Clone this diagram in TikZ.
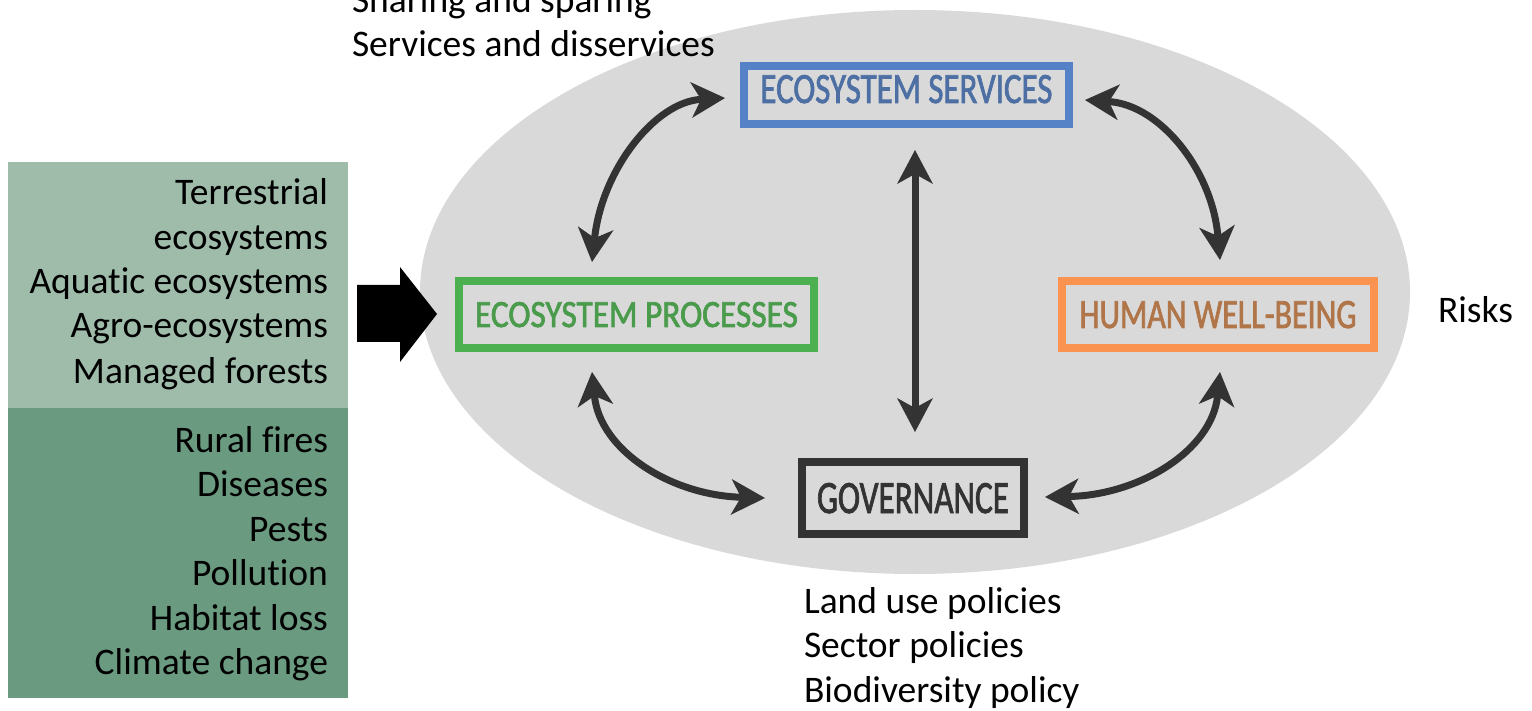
\documentclass[tikz,border=0pt]{standalone}
\usepackage{fontspec}
\setmainfont{Carlito}[Ligatures=NoCommon]
\newfontfamily\boxfont[FakeBold=2]{Carlito}
\usetikzlibrary{arrows.meta,calc}
\definecolor{ellgray}{HTML}{D9D9D9}
\definecolor{svcblue}{HTML}{5582C6}
\definecolor{svctext}{HTML}{4D6FA3}
\definecolor{procgreen}{HTML}{4DB050}
\definecolor{proctext}{HTML}{4A9B4C}
\definecolor{humorange}{HTML}{FA9350}
\definecolor{humtext}{HTML}{B07548}
\definecolor{govdark}{HTML}{333333}
\definecolor{arrowdark}{HTML}{333333}
\definecolor{panellight}{HTML}{9FBCAB}
\definecolor{paneldark}{HTML}{6A9A80}
\begin{document}
\begin{tikzpicture}[x=1pt,y=-1pt,
  lbl/.style={font=\fontsize{37.5}{44}\selectfont, inner sep=0pt, outer sep=0pt},
  boxnode/.style={draw, line width=8pt, inner sep=0pt, outer sep=0pt, font=\boxfont},
  panel/.style={inner sep=0pt, outer sep=0pt, anchor=north west, minimum width=340pt},
  dbl/.style={line width=7pt, draw=arrowdark,
    {Stealth[length=34pt,width=36pt,inset=10pt,line width=0pt]}-{Stealth[length=34pt,width=36pt,inset=10pt,line width=0pt]}}
]
\useasboundingbox (0,0) rectangle (1532,711);
\fill[white] (0,0) rectangle (1532,711);
% ellipse
\fill[ellgray] (915,292) ellipse [x radius=495, y radius=282];
% left panels
\node[panel, fill=panellight, minimum height=246pt] (panA) at (8,162) {};
\node[panel, fill=paneldark, minimum height=290pt] (panB) at (8,408) {};
\foreach \yy/\s [count=\i] in {205/Terrestrial, 250/ecosystems, 294/Aquatic ecosystems, 338/Agro-ecosystems, 383/Managed forests}
  \node[lbl, anchor=base east] (ta\i) at (328,\yy) {\s};
\foreach \yy/\s [count=\i] in {452/Rural fires, 496.5/Diseases, 541/Pests, 585.5/Pollution, 630/Habitat loss, 674.5/Climate change}
  \node[lbl, anchor=base east] (tb\i) at (328,\yy) {\s};
% big black arrow
\fill[black] (357,285) -- (400,285) -- (400,267) -- (437,314) -- (400,362) -- (400,342) -- (357,342) -- cycle;
% boxes
\node[boxnode, draw=svcblue, text=svctext, minimum width=325pt, minimum height=58pt, text height=28pt, text depth=12pt] (svc) at (906.5,95)
  {\resizebox{292pt}{28pt}{ECOSYSTEM SERVICES}};
\node[boxnode, draw=procgreen, text=proctext, minimum width=355pt, minimum height=67pt, text height=25pt, text depth=0pt] (proc) at (636.5,314.5)
  {\resizebox{323pt}{25pt}{ECOSYSTEM PROCESSES}};
\node[boxnode, draw=humorange, text=humtext, minimum width=312pt, minimum height=67pt, text height=27pt, text depth=0pt] (hum) at (1218,314.5)
  {\resizebox{277pt}{27pt}{HUMAN WELL-BEING}};
\node[boxnode, draw=govdark, text=govdark, minimum width=222pt, minimum height=72pt, text height=30pt, text depth=0pt] (gov) at (913,498)
  {\resizebox{192pt}{30pt}{GOVERNANCE}};
% arrow end points
\coordinate (a1t) at ($(svc.west)+(-19,3)$);
\coordinate (a1b) at ($(proc.north)+(-44.5,-19)$);
\coordinate (a2t) at ($(svc.east)+(16,5)$);
\coordinate (a2b) at ($(hum.north)+(2,-21)$);
\coordinate (a3t) at ($(proc.south)+(-44.5,24)$);
\coordinate (a3r) at ($(gov.west)+(-37,0)$);
\coordinate (a4l) at ($(gov.east)+(21,-1)$);
\coordinate (a4t) at ($(hum.south)+(2,24)$);
\coordinate (a5t) at ($(svc.south)+(8.5,26)$);
\coordinate (a5b) at ($(gov.north)+(2,-30)$);
% arrows
\draw[dbl] (a1b) .. controls +(10,-92) and +(-70,4) .. (a1t);
\draw[dbl] (a2t) .. controls +(75,5) and +(-8,-90) .. (a2b);
\draw[dbl] (a3t) .. controls +(8,78) and +(-95,-3) .. (a3r);
\draw[dbl] (a4l) .. controls +(95,-2) and +(-8,78) .. (a4t);
\draw[dbl] (a5t) -- (a5b);
% side texts
\node[lbl, anchor=base west] (s1) at (352,13) {Sharing and sparing};
\node[lbl, anchor=base west] (s2) at (352,57) {Services and disservices};
\node[lbl, anchor=base west] (risk) at (1438,323) {Risks};
\node[lbl, anchor=base west] (g1) at (804,613) {Land use policies};
\node[lbl, anchor=base west] (g2) at (804,657.5) {Sector policies};
\node[lbl, anchor=base west] (g3) at (804,702) {Biodiversity policy};
\end{tikzpicture}
\end{document}
